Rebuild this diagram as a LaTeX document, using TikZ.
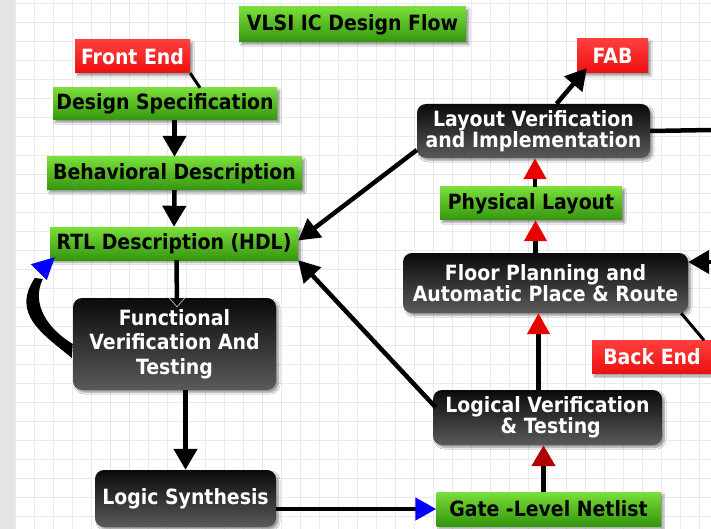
\documentclass[tikz,border=0pt]{standalone}
\usepackage{fontspec}
\newfontfamily\flowfont{DejaVu Sans}[FakeStretch=0.9]
\usetikzlibrary{arrows.meta,shadows.blur,calc}

\definecolor{gridgray}{RGB}{234,234,234}
\definecolor{stripgray}{RGB}{228,228,228}
\definecolor{greentop}{RGB}{122,222,58}
\definecolor{greenbot}{RGB}{52,150,14}
\definecolor{redtop}{RGB}{255,62,62}
\definecolor{redbot}{RGB}{236,16,16}
\definecolor{darktop}{RGB}{10,10,10}
\definecolor{darkbot}{RGB}{90,90,90}
\definecolor{headred}{RGB}{232,0,0}
\definecolor{headdarkred}{RGB}{178,0,0}
\definecolor{headblue}{RGB}{0,0,255}

\begin{document}
\begin{tikzpicture}[x=1pt,y=-1pt,
  box/.style={inner sep=0pt, align=center,
    font=\flowfont\bfseries\fontsize{21}{20.5}\selectfont,
    blur shadow={shadow xshift=2.5pt,shadow yshift=-2.5pt,shadow blur steps=6,shadow opacity=40}},
  greenbox/.style={box, rectangle, top color=greentop, bottom color=greenbot, text=black},
  redbox/.style={box, rectangle, top color=redtop, bottom color=redbot, text=white},
  darkbox/.style={box, rectangle, rounded corners=9pt, top color=darktop, bottom color=darkbot, text=white},
  gridline/.style={gridgray, line width=0.8pt},
  shaft/.style={line width=4.5pt},
  flow/.style={shaft, -{Triangle[length=21pt,width=23pt]}},
  flowred/.style={shaft, -{Triangle[length=21pt,width=22pt,color=headred]}},
  flowdarkred/.style={shaft, -{Triangle[length=21pt,width=23pt,color=headdarkred]}},
  flowblue/.style={shaft, -{Triangle[length=21pt,width=22pt,color=headblue]}},
  link/.style={line width=3pt}
]
\useasboundingbox (0,0) rectangle (711,529);

% background: paper grid and left strip
\fill[white] (0,0) rectangle (711,529);
\foreach \i in {0,...,37} \draw[gridline] ({15+19*\i},0) -- ({15+19*\i},529);
\foreach \j in {0,...,27} \draw[gridline] (15,{3+19*\j}) -- (711,{3+19*\j});
\fill[stripgray] (0,0) rectangle (15,529);

% boxes
\node[greenbox, minimum width=227pt, minimum height=35pt] (title) at (352.5,24.5) {VLSI IC Design Flow};
\node[redbox, minimum width=115pt, minimum height=33pt] (front) at (132.5,56.5) {Front End};
\node[greenbox, minimum width=224pt, minimum height=32pt] (spec) at (165,104) {Design Specification};
\node[greenbox, minimum width=255pt, minimum height=33pt] (behav) at (174.5,173.5) {Behavioral Description};
\node[greenbox, minimum width=248pt, minimum height=33pt] (rtl) at (174,243.5) {RTL Description (HDL)};
\node[darkbox, minimum width=203pt, minimum height=92pt,
      font=\flowfont\bfseries\fontsize{21}{24.5}\selectfont] (func) at (174.5,344) {Functional\\Verification And\\Testing};
\node[darkbox, minimum width=181pt, minimum height=57pt] (synth) at (185.5,498.5) {Logic Synthesis};
\node[greenbox, minimum width=224pt, minimum height=34pt] (gate) at (548.5,509) {Gate -Level Netlist};
\node[darkbox, minimum width=229pt, minimum height=55pt] (logver) at (547.5,417.5) {Logical Verification\\\hphantom{i}\& Testing};
\node[redbox, minimum width=120pt, minimum height=33pt] (backend) at (652,357) {Back End};
\node[darkbox, minimum width=285pt, minimum height=60pt] (floor) at (545.5,283) {Floor Planning and\\Automatic Place \& Route};
\node[greenbox, minimum width=182pt, minimum height=33pt] (phys) at (531,203.5) {Physical Layout};
\node[darkbox, minimum width=233pt, minimum height=54pt] (layout) at (533.5,131) {Layout Verification\\and Implementation};
\node[redbox, minimum width=71pt, minimum height=34pt] (fab) at (612.5,56) {FAB};

% free ends leaving the sheet on the right
\coordinate (offA) at (712,130);
\coordinate (offB) at (712,262);

% front-end flow
\draw[link] (front.south east) -- ($(spec.north)+(35,0)$);
\draw[flow] (spec.south -| behav.north) -- (behav.north);
\draw[flow] (behav.south) -- (rtl.north);
\coordinate (notch) at ($(func.north)+(2.5,9)$);
\draw[shaft] ($(rtl.south)+(2.5,0)$) -- (notch);
\draw[white!70!black, line width=0.8pt] ($(func.north)+(-5.5,0)$) -- (notch) -- ($(func.north)+(10.5,0)$);
\draw[flow] (func.south -| synth.north) -- (synth.north);
\draw[flowblue] (synth.east |- gate.west) -- (gate.west);

% feedback from functional verification back to RTL: a tapered swoosh
\fill[shift={(func.west)}] (-1,14) .. controls (-30,-10) and (-62,-30) .. (-38,-66)
   -- (-30,-65) .. controls (-42,-40) and (-25,-15) .. (0,0) -- cycle;
\fill[headblue, shift={(rtl.south west)}] (5,-3) -- (-19,4) -- (-3,20) -- cycle;

% back-end flow
\coordinate (gUp) at ($(gate.north)+(-5,0)$);
\coordinate (lUp) at ($(logver.north)+(-9,0)$);
\coordinate (fUp) at ($(floor.north)+(-10,0)$);
\coordinate (pUp) at ($(phys.north)+(4,0)$);
\draw[flowdarkred] (gUp) -- (gUp |- logver.south);
\draw[flowred] (lUp) -- (lUp |- floor.south);
\draw[flowred] (fUp) -- (fUp |- phys.south);
\draw[flowred] (pUp) -- (pUp |- layout.south);
\draw[flow] ($(layout.north)+(23,0)$) -- ($(fab.south west)+(10,-5)$);
\draw[flow] ($(layout.west)+(0,19)$) -- ($(rtl.east)+(0,-3)$);
\draw[flow] ($(logver.west)+(3,-10)$) -- (rtl.south east);
\draw[shaft] (layout.east) -- (offA);
\draw[flow] (offB) -- (offB -| floor.east);
\draw[link] ($(floor.south east)+(-7,0)$) -- ($(backend.north)+(52,0)$);
\end{tikzpicture}
\end{document}
